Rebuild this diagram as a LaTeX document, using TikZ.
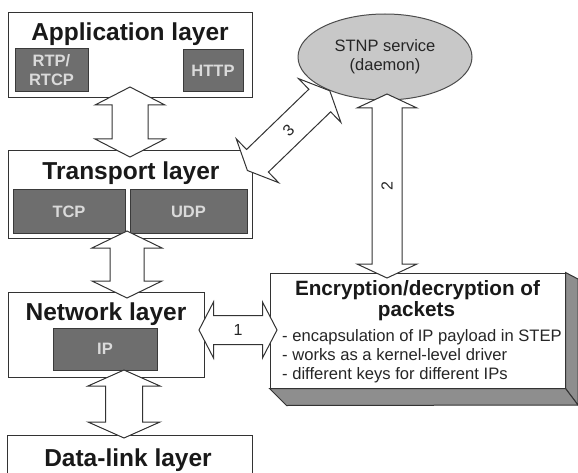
\documentclass[tikz,border=0pt]{standalone}
\usepackage{fontspec}
\setmainfont{Liberation Sans}
\usetikzlibrary{calc,shapes.geometric}
\definecolor{boxline}{HTML}{333333}
\definecolor{darkfill}{HTML}{6E6E6E}
\definecolor{darkline}{HTML}{3A3A3A}
\definecolor{lighttext}{HTML}{DADADA}
\definecolor{ellfill}{HTML}{C8C8C8}
\definecolor{shadefill}{HTML}{8E8E8E}
\newcommand\dblarrow[5]{%
  \draw[blockarrow] (#1)
   -- ($(#1)!#5!(#2)!#4!90:(#2)$)
   -- ($(#1)!#5!(#2)!#3!90:(#2)$)
   -- ($(#2)!#5!(#1)!#3!-90:(#1)$)
   -- ($(#2)!#5!(#1)!#4!-90:(#1)$)
   -- (#2)
   -- ($(#2)!#5!(#1)!#4!90:(#1)$)
   -- ($(#2)!#5!(#1)!#3!90:(#1)$)
   -- ($(#1)!#5!(#2)!#3!-90:(#2)$)
   -- ($(#1)!#5!(#2)!#4!-90:(#2)$)
   -- cycle;}
\begin{document}
\begin{tikzpicture}[x=1pt,y=-1pt,
  layerbox/.style={draw=boxline, line width=1pt, fill=white, inner sep=0pt},
  protobox/.style={draw=darkline, line width=1pt, fill=darkfill, inner sep=0pt,
    text=lighttext, font=\fontsize{16.5}{19}\selectfont\bfseries, align=center},
  title/.style={font=\fontsize{24.5}{28}\selectfont\bfseries, text=black!90, inner sep=0pt, anchor=base},
  enctitle/.style={font=\fontsize{20.7}{24}\selectfont\bfseries, text=black!90, inner sep=0pt, anchor=base},
  bullet/.style={font=\fontsize{16.6}{19}\selectfont, text=black!85, inner sep=0pt, anchor=base west},
  blockarrow/.style={draw=boxline, line width=1pt, fill=white, line join=miter},
  lbl/.style={font=\fontsize{16}{19}\selectfont, text=black!85, inner sep=0pt}]
\useasboundingbox (0,0) rectangle (578,473);

% layer boxes
\node[layerbox, minimum width=244pt, minimum height=85pt] (app) at (130,55.5) {};
\node[title] (apptitle) at (130,41) {Application layer};
\node[protobox, minimum width=73pt, minimum height=43pt] (rtp) at (51.5,70.5) {RTP/\\RTCP};
\node[protobox, minimum width=60pt, minimum height=42pt] (http) at (213,71) {HTTP};

\node[layerbox, minimum width=244pt, minimum height=87pt] (trans) at (130,194.5) {};
\node[title] (transtitle) at (131,180) {Transport layer};
\node[protobox, minimum width=112pt, minimum height=43pt] (tcp) at (69,211.5) {TCP};
\node[protobox, minimum width=117pt, minimum height=43pt] (udp) at (188.5,211.5) {UDP};

\node[layerbox, minimum width=196pt, minimum height=85pt] (net) at (106,334.5) {};
\node[title] (nettitle) at (106,320) {Network layer};
\node[protobox, minimum width=104pt, minimum height=42pt] (ip) at (105,349) {IP};

\node[layerbox, minimum width=245pt, minimum height=60pt] (dl) at (129.5,465) {};
\node[title] (dltitle) at (128,466.5) {Data-link layer};

% encryption box with 3D faces
\node[layerbox, minimum width=295pt, minimum height=115pt] (enc) at (417.5,330.5) {};
\filldraw[fill=shadefill, draw=boxline, line width=1pt]
  (enc.north east) -- (578,279) -- (578,405) -- (enc.south east) -- cycle;
\filldraw[fill=shadefill, draw=boxline, line width=1pt]
  (enc.south west) -- ($(enc.south west)+(17,17)$) -- (578,405) -- (enc.south east) -- cycle;
\node[enctitle] (enct1) at (417.5,295) {Encryption/decryption of};
\node[enctitle] (enct2) at (416.5,316) {packets};
\node[bullet] (b1) at (282,341) {- encapsulation of IP payload in STEP};
\node[bullet] (b2) at (282,360) {- works as a kernel-level driver};
\node[bullet] (b3) at (282,379) {- different keys for different IPs};

% daemon ellipse
\node[ellipse, draw=black!70, line width=1pt, fill=ellfill, minimum width=174pt,
  minimum height=86pt, inner sep=0pt, align=center,
  font=\fontsize{16.5}{19}\selectfont, text=black!85] (stnp) at (385,57)
  {STNP service\\(daemon)};

% arrow end points
\coordinate (aA1) at (130,87);
\coordinate (aA2) at (130,157);
\coordinate (aB1) at (127,231);
\coordinate (aB2) at (127,298);
\coordinate (aC1) at (124,370);
\coordinate (aC2) at (124,438);
\coordinate (a11) at (199,330);
\coordinate (a12) at (277,330);
\coordinate (a21) at (387,94);
\coordinate (a22) at (387,278);
\coordinate (a31) at (247.4,170.5);
\coordinate (a32) at (329.8,90.8);

\dblarrow{aA1}{aA2}{18pt}{35pt}{18pt}
\dblarrow{aB1}{aB2}{17pt}{35pt}{17pt}
\dblarrow{aC1}{aC2}{18.5pt}{36pt}{16pt}
\dblarrow{a11}{a12}{14.5pt}{28pt}{14.5pt}
\dblarrow{a21}{a22}{15pt}{30pt}{14pt}
\dblarrow{a31}{a32}{15.7pt}{30.5pt}{14pt}

\node[lbl] (l1) at ($(a11)!0.5!(a12)$) {1};
\node[lbl, rotate=90] (l2) at ($(a21)!0.5!(a22)$) {2};
\node[lbl, rotate=44] (l3) at ($(a31)!0.5!(a32)$) {3};
\end{tikzpicture}
\end{document}
